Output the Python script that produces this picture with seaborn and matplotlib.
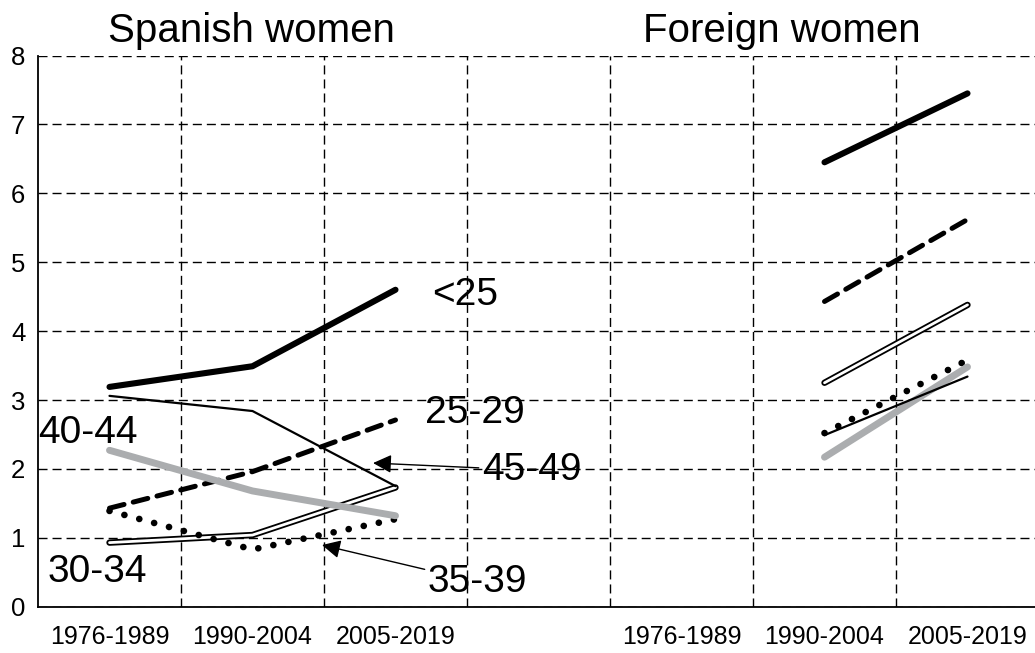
import matplotlib
matplotlib.use('Agg')
import matplotlib.pyplot as plt
import numpy as np
import pandas as pd
import seaborn as sns

# Data
tick_labels = ['1976-1989', '1990-2004', '2005-2019', '',
               '1976-1989', '1990-2004', '2005-2019']
spanish_pos = [0, 1, 2]
foreign_pos = [5, 6]

ages = ['<25', '25-29', '30-34', '35-39', '40-44', '45-49']
spanish = {
    '<25':   [3.19, 3.49, 4.60],
    '25-29': [1.43, 1.96, 2.71],
    '30-34': [0.93, 1.04, 1.73],
    '35-39': [1.39, 0.83, 1.27],
    '40-44': [2.27, 1.68, 1.32],
    '45-49': [3.06, 2.84, 1.75],
}
foreign = {
    '<25':   [6.45, 7.45],
    '25-29': [4.43, 5.62],
    '30-34': [3.25, 4.38],
    '35-39': [2.52, 3.58],
    '40-44': [2.17, 3.48],
    '45-49': [2.49, 3.34],
}

sns.set_style('white')
plt.rcParams['font.family'] = ['Liberation Sans', 'DejaVu Sans']
plt.rcParams['text.color'] = 'black'
plt.rcParams['xtick.color'] = 'black'
plt.rcParams['ytick.color'] = 'black'

# line styles per age group
styles = {
    '<25':   dict(color='black', lw=4.4, solid_capstyle='round'),
    '25-29': dict(color='black', lw=3.6, linestyle=(0, (3.0, 1.9)), dash_capstyle='round'),
    '35-39': dict(color='black', lw=4.8, linestyle=(0, (0.01, 2.3)), dash_capstyle='round'),
    '40-44': dict(color='#abadaf', lw=5.0, solid_capstyle='round'),
    '45-49': dict(color='black', lw=1.6, solid_capstyle='round'),
}

fig = plt.figure(figsize=(10.35, 6.53), dpi=100)
ax = fig.add_axes([38 / 1035, 46.3 / 653, 1001 / 1035, 551.2 / 653])


def draw(pos, vals, age):
    d = pd.DataFrame({'x': pos, 'y': vals})
    if age == '30-34':
        # double line: black outline with white core
        sns.lineplot(data=d, x='x', y='y', ax=ax, color='black', lw=4.6,
                     solid_capstyle='round', solid_joinstyle='round', legend=False)
        sns.lineplot(data=d, x='x', y='y', ax=ax, color='white', lw=2.0,
                     solid_capstyle='round', solid_joinstyle='round', legend=False)
    else:
        sns.lineplot(data=d, x='x', y='y', ax=ax, legend=False,
                     solid_joinstyle='round', **styles[age])


for age in ages:
    draw(spanish_pos, spanish[age], age)
    draw(foreign_pos, foreign[age], age)

ax.set_xlim(-0.5, 6.5)
ax.set_ylim(0, 8)
ax.set_xticks(range(7))
ax.set_xticklabels(tick_labels, fontsize=18)
ax.set_xticks(np.arange(0.5, 6.5, 1), minor=True)
ax.set_yticks(range(9))
ax.tick_params(axis='y', labelsize=18.5, length=0, pad=9)
ax.tick_params(axis='x', which='both', length=0, pad=13.5)
ax.set_xlabel('')
ax.set_ylabel('')

ax.grid(False)
ax.grid(axis='y', which='major', color='black', lw=1.0, linestyle=(0, (6.5, 3.6)))
ax.grid(axis='x', which='minor', color='black', lw=1.0, linestyle=(0, (6.5, 3.6)))
ax.set_axisbelow(True)

for s in ['top', 'right']:
    ax.spines[s].set_visible(False)
for s in ['left', 'bottom']:
    ax.spines[s].set_color('black')
    ax.spines[s].set_linewidth(1.3)

# panel titles
ax.text(0.99, 8.196, 'Spanish women', fontsize=29, ha='center', va='baseline', clip_on=False)
ax.text(4.70, 8.196, 'Foreign women', fontsize=29, ha='center', va='baseline', clip_on=False)

# age group labels
lab = dict(fontsize=28, ha='left', va='center')
ax.text(2.255, 4.52, '<25', **lab)
ax.text(2.206, 2.81, '25-29', **lab)
ax.text(-0.50, 2.52, '40-44', **lab)
ax.text(-0.43, 0.51, '30-34', **lab)

arrow = dict(arrowstyle='-|>', color='black', lw=1.0, mutation_scale=28,
             shrinkA=0, shrinkB=0)
ax.annotate('45-49', xy=(1.843, 2.085), xytext=(2.605, 1.98),
            fontsize=28, ha='left', va='center', arrowprops=arrow)
ax.annotate('35-39', xy=(1.486, 0.895), xytext=(2.227, 0.36),
            fontsize=28, ha='left', va='center', arrowprops=arrow)

fig.savefig('out.png', dpi=100)
